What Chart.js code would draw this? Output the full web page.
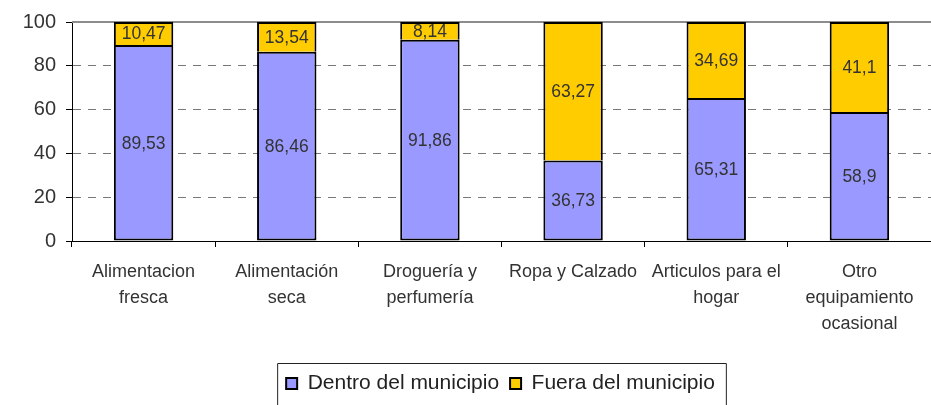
<!DOCTYPE html>
<html><head><meta charset="utf-8">
<script src="https://cdn.jsdelivr.net/npm/chart.js@4/dist/chart.umd.min.js"></script>
<style>html,body{margin:0;padding:0;background:#fff}#wrap{width:931px;height:405px;position:relative}</style>
</head><body><div id="wrap"><canvas id="c"></canvas></div>
<script>
const categories = [["Alimentacion","fresca"],["Alimentación","seca"],["Droguería y","perfumería"],["Ropa y Calzado"],["Articulos para el","hogar"],["Otro","equipamiento","ocasional"]];
const seriesNames = ["Dentro del municipio","Fuera del municipio"];
const dentro = [89.53,86.46,91.86,36.73,65.31,58.9];
const fuera = [10.47,13.54,8.14,63.27,34.69,41.1];
const yMin = 0, yMax = 100, yStep = 20;

const FONT = '"Liberation Sans", Arial, sans-serif';

const valueLabels = {
  id:'valueLabels',
  afterDatasetsDraw(chart){
    const ctx = chart.ctx;
    ctx.save();
    ctx.font = '17.5px ' + FONT;
    ctx.fillStyle = '#333';
    ctx.textAlign = 'center'; ctx.textBaseline = 'middle';
    chart.data.datasets.forEach((ds,i)=>{
      const meta = chart.getDatasetMeta(i);
      meta.data.forEach((el,j)=>{
        ctx.fillText(String(ds.data[j]).replace('.',','), el.x, (el.y+el.base)/2 + 1);
      });
    });
    ctx.restore();
  }
};

const frame = {
  id:'frame',
  afterLayout(chart){
    const lg = chart.legend;
    if (lg) { lg.left += 32; lg.right += 32; if (lg.adjustHitBoxes) lg.adjustHitBoxes(); }
  },
  beforeDatasetsDraw(chart){
    const {ctx, chartArea:a} = chart;
    ctx.save();
    ctx.strokeStyle = '#8c8c8c'; ctx.lineWidth = 2;
    ctx.beginPath(); ctx.moveTo(a.left, a.top); ctx.lineTo(a.right, a.top); ctx.stroke();
    ctx.restore();
  },
  afterDraw(chart){
    const lg = chart.legend; if (!lg || !lg.legendHitBoxes) return;
    const hb = lg.legendHitBoxes;
    const l = hb[0].left - 9, r = hb[hb.length-1].left + hb[hb.length-1].width + 11;
    const t = lg.top + 1;
    const ctx = chart.ctx;
    ctx.save(); ctx.strokeStyle = '#222'; ctx.lineWidth = 1;
    ctx.beginPath();
    ctx.moveTo(l+0.5, chart.height); ctx.lineTo(l+0.5, t+0.5); ctx.lineTo(r+0.5, t+0.5); ctx.lineTo(r+0.5, chart.height);
    ctx.stroke(); ctx.restore();
  }
};

new Chart(document.getElementById('c'), {
  type:'bar',
  data:{
    labels: categories,
    datasets:[
      {label: seriesNames[0], data: dentro, backgroundColor:'#9999FF', borderColor:'#000', borderWidth:2, borderSkipped:false},
      {label: seriesNames[1], data: fuera, backgroundColor:'#FFCC00', borderColor:'#000', borderWidth:2, borderSkipped:'bottom'}
    ]
  },
  options:{
    responsive:true, maintainAspectRatio:false, animation:false,
    devicePixelRatio:1,
    layout:{padding:{top:18,right:-6,left:0,bottom:1}},
    datasets:{bar:{categoryPercentage:1, barPercentage:0.415}},
    scales:{
      x:{
        stacked:true,
        afterFit(s){ s.height = 121; },
        grid:{drawOnChartArea:false, drawTicks:true, tickLength:6, tickColor:'#000', offset:true},
        border:{display:true, color:'#000', width:1},
        ticks:{color:'#333', font:{family:FONT, size:18, lineHeight:1.44}, padding:12, maxRotation:0, autoSkip:false}
      },
      y:{
        stacked:true, min:yMin, max:yMax,
        afterFit(s){ s.width = 72; },
        grid:{color:(c)=> (c.tick && (c.tick.value===yMax || c.tick.value===yMin)) ? 'rgba(0,0,0,0)' : '#777', lineWidth:1, tickLength:6, tickColor:'#000', tickWidth:1},
        border:{display:true, color:'#000', width:1, dash:[8,7]},
        ticks:{stepSize:yStep, color:'#333', font:{family:FONT, size:20}, padding:10}
      }
    },
    plugins:{
      legend:{position:'bottom', labels:{color:'#222', font:{family:FONT, size:21}, boxWidth:11, boxHeight:11, padding:11}},
      tooltip:{enabled:false}
    }
  },
  plugins:[valueLabels, frame]
});
</script></body></html>
